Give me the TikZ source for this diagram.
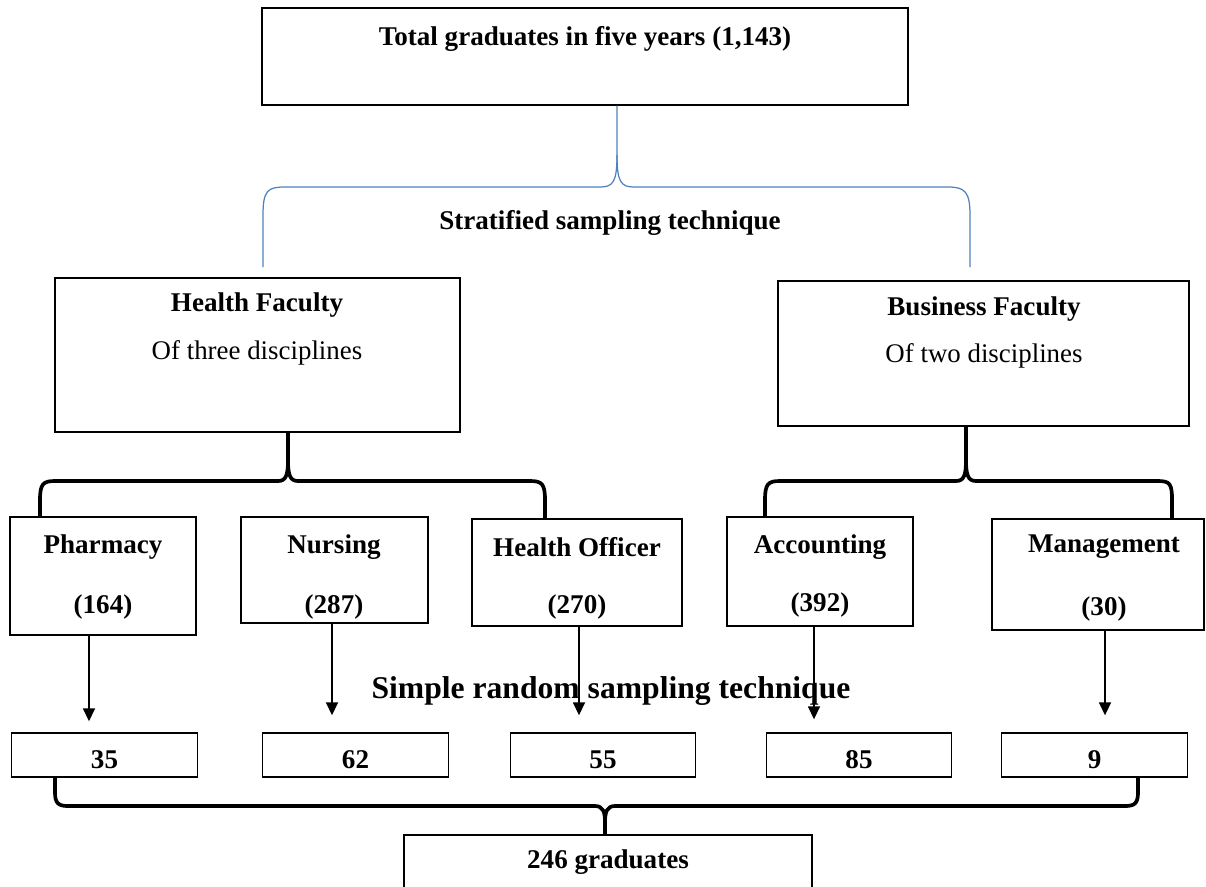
\documentclass[tikz,border=0pt]{standalone}
\usepackage{fontspec}
\setmainfont{Liberation Serif}
\usetikzlibrary{arrows.meta}
\definecolor{wordblue}{RGB}{79,129,189}
\tikzset{
  box/.style={draw,line width=0.8pt,inner sep=0pt},
  lbl/.style={inner sep=0pt,font=\fontsize{15.4}{18}\selectfont\bfseries},
  txt/.style={inner sep=0pt,font=\fontsize{15.3}{18}\selectfont},
  arr/.style={line width=0.9pt,-{Triangle[length=2.6mm,width=2.4mm]}},
  blk/.style={line width=2.1pt},
}
\begin{document}
\begin{tikzpicture}[x=0.02cm,y=-0.02cm]
\useasboundingbox (0,0) rectangle (1206,886);
% top box and faculties
\node[box,minimum width=12.92cm,minimum height=1.94cm] (total) at (585,56.5) {};
\node[lbl] (totalt) at (585,39) {Total graduates in five years (1,143)};
\node[box,minimum width=8.1cm,minimum height=3.08cm] (health) at (257.5,355) {};
\node[lbl] (healtht) at (257,305) {Health Faculty};
\node[txt] (healthd) at (257,353) {Of three disciplines};
\node[box,minimum width=8.22cm,minimum height=2.9cm] (business) at (983.5,353.5) {};
\node[lbl] (businesst) at (984,309) {Business Faculty};
\node[txt] (businessd) at (984,356) {Of two disciplines};
\node[lbl] (strat) at (610,223) {Stratified sampling technique};
% disciplines
\foreach \n/\x/\tx/\y/\w/\h/\t/\v/\ty in {pharm/103/103/576/3.72/2.36/Pharmacy/164/607,
  nurs/334.5/334/570/3.74/2.12/Nursing/287/607, offi/577/577/572.5/4.2/2.14/Health Officer/270/607,
  acco/820/820/571.5/3.72/2.18/Accounting/392/605, mana/1098/1104/574.5/4.24/2.22/Management/30/609} {
  \node[box,minimum width=\w cm,minimum height=\h cm] (\n) at (\x,\y) {};
  \node[lbl] (\n t) at (\tx,547) {\t};
  \node[lbl] (\n v) at (\tx,\ty) {(\v)};
}
\node[lbl,font=\fontsize{18}{21}\selectfont\bfseries] (simple) at (611,691) {Simple random sampling technique};
% samples
\foreach \n/\x/\v in {s1/104.5/35,s2/355.5/62,s3/603/55,s4/859/85,s5/1094.5/9} {
  \node[box,minimum width=3.71cm,minimum height=0.88cm] (\n) at (\x,755) {};
  \node[lbl] (\n t) at (\x,760) {\v};
}
\node[box,minimum width=8.16cm,minimum height=1.28cm] (grad) at (608,867) {};
\node[lbl] (gradt) at (608,862) {246 graduates};
% arrows
\foreach \a/\b/\x/\g in {pharm/s1/89/0.22,nurs/s2/332/0.34,offi/s3/579/0.34,acco/s4/814/0.26,mana/s5/1105/0.34} {
  \coordinate (\a x) at (\x,0);
  \draw[arr,shorten >=\g cm] (\a.south -| \a x) -- (\b.north -| \a x);
}
% braces
\coordinate (bl) at (263,267);
\coordinate (br) at (970,267);
\coordinate (bs) at (617,0);
\draw[wordblue,line width=0.7pt] (bl) -- (263,215) .. controls (263,190) and (268,187) .. (285,187) -- (600,187)
  .. controls (613,187) and (617,182) .. (617,155) -- (total.south -| bs);
\draw[wordblue,line width=0.7pt] (617,155) .. controls (617,182) and (621,187) .. (634,187) -- (948,187)
  .. controls (965,187) and (970,192) .. (970,215) -- (br);
\coordinate (hs) at (288,0);
\draw[blk] (pharm.north -| 40,0) -- (40,500) .. controls (40,484) and (43,481) .. (55,481) -- (278,481)
  .. controls (286,481) and (288,475) .. (288,460) -- (health.south -| hs);
\draw[blk] (288,460) .. controls (288,475) and (290,481) .. (298,481) -- (530,481)
  .. controls (542,481) and (545,484) .. (545,500) -- (offi.north -| 545,0);
\coordinate (bu) at (966,0);
\draw[blk] (acco.north -| 765,0) -- (765,500) .. controls (765,484) and (768,481) .. (780,481) -- (956,481)
  .. controls (964,481) and (966,475) .. (966,460) -- (business.south -| bu);
\draw[blk] (966,460) .. controls (966,475) and (968,481) .. (976,481) -- (1158,481)
  .. controls (1170,481) and (1172,484) .. (1172,500) -- (mana.north -| 1172,0);
\draw[blk] (s1.south -| 55,0) -- (55,792) .. controls (55,803) and (58,806) .. (68,806) -- (595,806)
  .. controls (603,806) and (605,812) .. (605,822) -- (grad.north -| 605,0);
\draw[blk] (605,822) .. controls (605,812) and (607,806) .. (615,806) -- (1125,806)
  .. controls (1135,806) and (1138,803) .. (1138,792) -- (s5.south -| 1138,0);
\end{tikzpicture}
\end{document}
